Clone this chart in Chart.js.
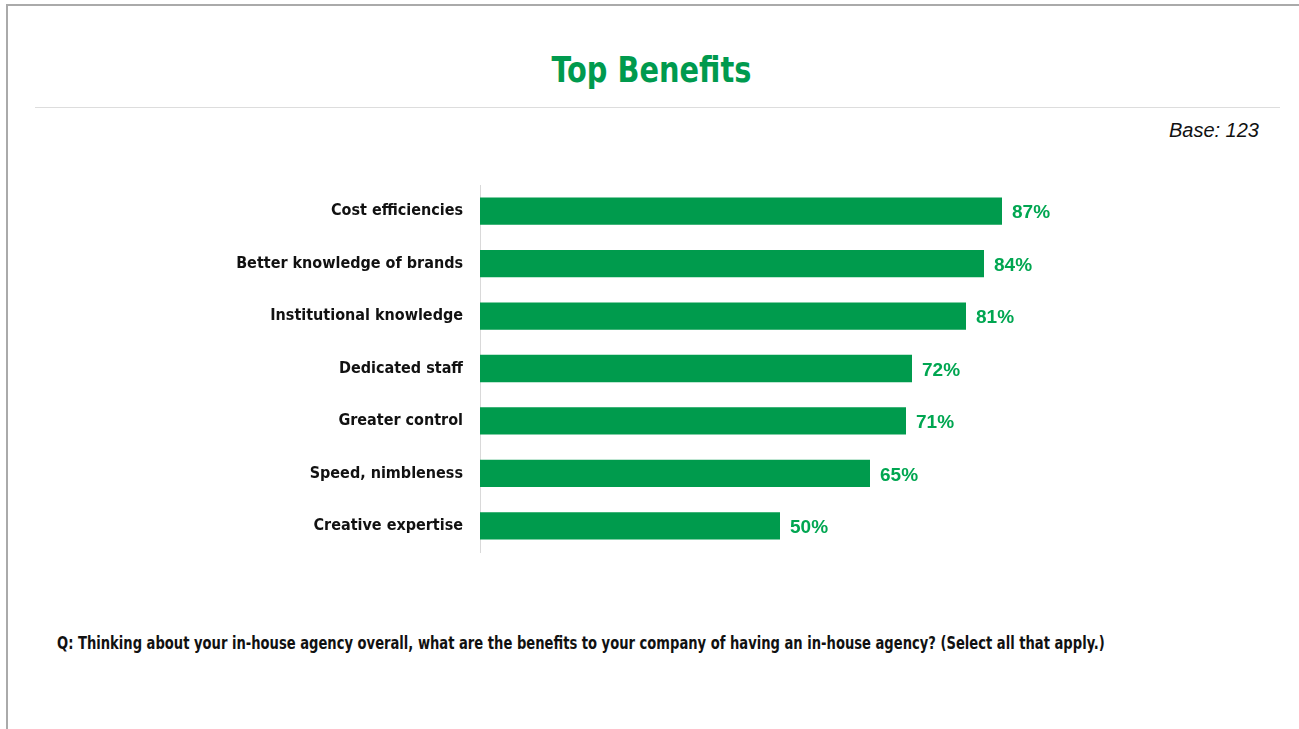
<!DOCTYPE html>
<html>
<head>
<meta charset="utf-8">
<script src="https://cdn.jsdelivr.net/npm/chart.js@4.4.0/dist/chart.umd.min.js"></script>
<style>
  html, body { margin: 0; padding: 0; background: #fff; }
  #page { position: relative; width: 1299px; height: 729px; overflow: hidden; }
  #frame { position: absolute; left: 6px; top: 4px; width: 1300px; height: 740px;
           border-left: 2px solid #aaa; border-top: 2px solid #aaa; }
  #title { position: absolute; left: 2px; width: 1299px; top: 49px; text-align: center; line-height: 1;
           font: bold 36px "DejaVu Sans Condensed", "Liberation Sans", sans-serif; font-stretch: condensed;
           color: #009a4e; transform: scaleX(0.89); }
  #rule { position: absolute; left: 35px; top: 107px; width: 1245px; height: 0;
          border-top: 1px solid #ddd; }
  #base { position: absolute; right: 40px; top: 119px;
          font: italic 20px "Liberation Sans", Arial, sans-serif; color: #111; }
  #question { position: absolute; left: 57px; top: 632px; line-height: 1; white-space: nowrap;
              font: bold 18px "DejaVu Sans Condensed", "Liberation Sans", sans-serif; font-stretch: condensed;
              color: #111; transform: scaleX(0.81); transform-origin: left center; }
  #chartBox { position: absolute; left: 0; top: 175px; width: 1299px; height: 387px; }
</style>
</head>
<body>
<div id="page">
  <div id="frame"></div>
  <div id="title">Top Benefits</div>
  <div id="rule"></div>
  <div id="base">Base: 123</div>
  <div id="chartBox"><canvas id="benefitsChart"></canvas></div>
  <div id="question">Q: Thinking about your in-house agency overall, what are the benefits to your company of having an in-house agency? (Select all that apply.)</div>
</div>
<script>
// Categorias e percentuais
const categorias = ['Cost efficiencies', 'Better knowledge of brands', 'Institutional knowledge',
                    'Dedicated staff', 'Greater control', 'Speed, nimbleness', 'Creative expertise'];
const percentuais = [87, 84, 81, 72, 71, 65, 50];

const verdeBarra = '#009b4d';
const verdeRotulo = '#00a651';

// Rótulos de valor no fim de cada barra
const rotulosValor = {
    id: 'rotulosValor',
    afterDatasetsDraw(chart) {
        const ctx = chart.ctx;
        const meta = chart.getDatasetMeta(0);
        ctx.save();
        ctx.font = 'bold 19px "Liberation Sans", Arial, sans-serif';
        ctx.fillStyle = verdeRotulo;
        ctx.textAlign = 'left';
        ctx.textBaseline = 'middle';
        meta.data.forEach((bar, i) => {
            ctx.fillText(percentuais[i] + '%', bar.x + 10, bar.y + 2);
        });
        ctx.restore();
    }
};

const ctx = document.getElementById('benefitsChart').getContext('2d');
new Chart(ctx, {
    type: 'bar',
    data: {
        labels: categorias,
        datasets: [{
            data: percentuais,
            backgroundColor: verdeBarra,
            borderWidth: 0,
            categoryPercentage: 1,
            barPercentage: 0.52
        }]
    },
    options: {
        indexAxis: 'y',
        responsive: true,
        maintainAspectRatio: false,
        animation: false,
        layout: { padding: { left: 0, right: 219, top: 10, bottom: 10 } },
        scales: {
            x: { display: false, min: 0, max: 100 },
            y: {
                afterFit: (scale) => {
                    scale.width = 480;
                    scale.paddingTop = 0;
                    scale.paddingBottom = 0;
                },
                grid: { display: false },
                border: { display: true, color: '#d9d9d9', width: 1 },
                ticks: {
                    padding: 9,
                    color: '#111',
                    font: { family: '"DejaVu Sans Condensed", "Liberation Sans", sans-serif', size: 16, weight: 'bold' }
                }
            }
        },
        plugins: {
            legend: { display: false },
            tooltip: { enabled: false }
        }
    },
    plugins: [rotulosValor]
});
</script>
</body>
</html>
